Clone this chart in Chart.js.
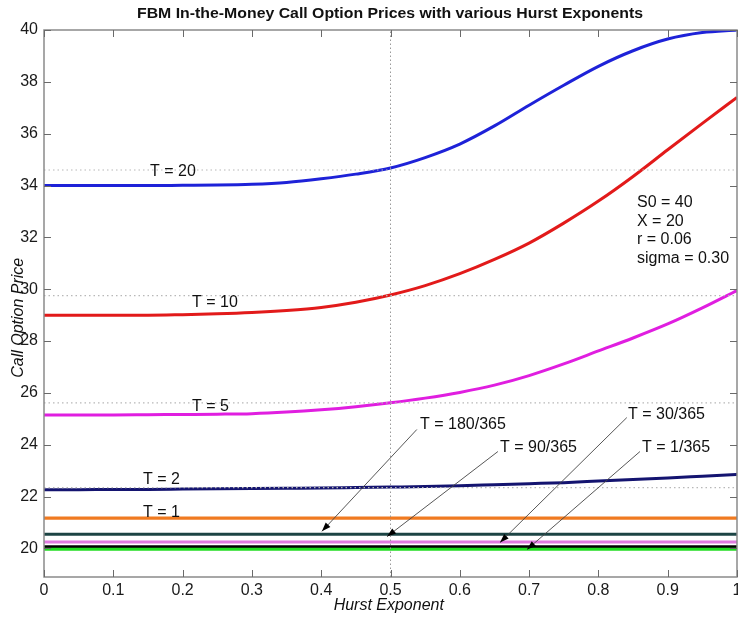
<!DOCTYPE html>
<html>
<head>
<meta charset="utf-8">
<script src="https://cdn.jsdelivr.net/npm/chart.js@4/dist/chart.umd.min.js"></script>
<style>
html,body{margin:0;padding:0;background:#fff;}
#wrap{width:738px;height:618px;position:relative;}
</style>
</head>
<body>
<div id="wrap"><canvas id="c" width="738" height="618"></canvas></div>
<script>
// ---- data ----
const hurst = [0,0.05,0.1,0.15,0.2,0.25,0.3,0.35,0.4,0.45,0.5,0.55,0.6,0.65,0.7,0.75,0.8,0.85,0.9,0.95,1];
const priceT20  = [34.0,34.0,34.0,34.0,34.01,34.02,34.05,34.12,34.26,34.44,34.68,35.08,35.6,36.3,37.1,37.87,38.6,39.2,39.65,39.9,40.0];
const priceT10  = [29.0,29.0,29.0,29.0,29.02,29.05,29.1,29.18,29.3,29.5,29.78,30.14,30.6,31.15,31.78,32.55,33.4,34.35,35.38,36.4,37.4];
const priceT5   = [25.15,25.15,25.15,25.16,25.17,25.18,25.2,25.26,25.35,25.47,25.62,25.8,26.02,26.3,26.67,27.12,27.62,28.12,28.66,29.28,29.95];
const priceT2   = [22.27,22.27,22.28,22.28,22.29,22.3,22.31,22.32,22.33,22.35,22.37,22.39,22.42,22.46,22.5,22.54,22.6,22.66,22.72,22.79,22.86];
const priceT1   = [21.17,21.17,21.17,21.17,21.17,21.17,21.17,21.17,21.17,21.17,21.17,21.17,21.17,21.17,21.17,21.17,21.17,21.17,21.17,21.17,21.17];
const priceT180 = [20.55,20.55,20.55,20.55,20.55,20.55,20.55,20.55,20.55,20.55,20.55,20.55,20.55,20.55,20.55,20.55,20.55,20.55,20.55,20.55,20.55];
const priceT90  = [20.25,20.25,20.25,20.25,20.25,20.25,20.25,20.25,20.25,20.25,20.25,20.25,20.25,20.25,20.25,20.25,20.25,20.25,20.25,20.25,20.25];
const priceT30  = [20.06,20.06,20.06,20.06,20.06,20.06,20.06,20.06,20.06,20.06,20.06,20.06,20.06,20.06,20.06,20.06,20.06,20.06,20.06,20.06,20.06];
const priceT1d  = [19.97,19.97,19.97,19.97,19.97,19.97,19.97,19.97,19.97,19.97,19.97,19.97,19.97,19.97,19.97,19.97,19.97,19.97,19.97,19.97,19.97];
// reference (H = 0.5) levels shown as dotted lines
const refLevels = [34.6, 29.75, 25.62, 22.35];
const refHurst = 0.5;
const yTicks = [20,22,24,26,28,30,32,34,36,38,40];
const xTicks = [0,0.1,0.2,0.3,0.4,0.5,0.6,0.7,0.8,0.9,1];

const seriesNames  = ['T = 1/365','T = 30/365','T = 90/365','T = 180/365','T = 1','T = 2','T = 5','T = 10','T = 20'];
const seriesValues = [priceT1d, priceT30, priceT90, priceT180, priceT1, priceT2, priceT5, priceT10, priceT20];
const seriesColors = ['#22dd22','#000000','#e07ae0','#1c4444','#f07a20','#141470','#e01ee0','#e21a1a','#1e22d8'];

// annotation texts: [text, H, price]
const labelTexts = [
  ['T = 20', 0.153, 34.53],
  ['T = 10', 0.2136, 29.48],
  ['T = 5', 0.2136, 25.47],
  ['T = 2', 0.143, 22.66],
  ['T = 1', 0.143, 21.39],
  ['T = 180/365', 0.5426, 24.78],
  ['T = 90/365', 0.658, 23.89],
  ['T = 30/365', 0.8427, 25.16],
  ['T = 1/365', 0.863, 23.89]
];
// arrows: [fromH, fromPrice, toH, toPrice]
const arrows = [
  [0.538, 24.59, 0.401, 20.66],
  [0.655, 23.74, 0.495, 20.46],
  [0.841, 25.05, 0.658, 20.23],
  [0.860, 23.74, 0.697, 19.96]
];
const paramLines = ['S0 = 40','X = 20','r = 0.06','sigma = 0.30'];
const paramPos = [0.8557, 33.33, 31.18];

const titleText = 'FBM In-the-Money Call Option Prices with various Hurst Exponents';
const xTitle = 'Hurst Exponent';
const yTitle = 'Call Option Price';

// ---- datasets ----
const datasets = [];
refLevels.forEach(v => {
  datasets.push({
    data: [{x:0,y:v},{x:1,y:v}],
    borderColor:'#b8b8b8', borderWidth:1.2, borderDash:[1.5,3],
    pointRadius:0, fill:false, tension:0
  });
});
datasets.push({
  data: [{x:refHurst,y:18.9},{x:refHurst,y:40}],
  borderColor:'#9a9a9a', borderWidth:1, borderDash:[1.5,2.5],
  pointRadius:0, fill:false, tension:0
});
seriesValues.forEach((vals,i) => {
  datasets.push({
    label: seriesNames[i],
    data: hurst.map((h,j)=>({x:h,y:vals[j]})),
    borderColor: seriesColors[i],
    borderWidth: i < 5 ? 3.2 : 3,
    pointRadius:0, fill:false,
    cubicInterpolationMode:'monotone'
  });
});

const FONT = '"Liberation Sans", Arial, Helvetica, sans-serif';

const decor = {
  id:'decor',
  afterDatasetsDraw(chart){
    const {ctx, chartArea:a, scales:{x,y}} = chart;
    ctx.save();
    // frame
    ctx.strokeStyle = '#8a8a8a';
    ctx.lineWidth = 1.5;
    ctx.strokeRect(a.left, a.top, a.right - a.left, a.bottom - a.top);
    // inward ticks
    ctx.lineWidth = 1;
    ctx.strokeStyle = '#6a6a6a';
    const tl = 7;
    xTicks.forEach(t => {
      const px = Math.round(x.getPixelForValue(t)) + 0.5;
      ctx.beginPath();
      ctx.moveTo(px, a.bottom); ctx.lineTo(px, a.bottom - tl);
      ctx.moveTo(px, a.top); ctx.lineTo(px, a.top + tl);
      ctx.stroke();
    });
    yTicks.forEach(t => {
      const py = Math.round(y.getPixelForValue(t)) + 0.5;
      ctx.beginPath();
      ctx.moveTo(a.left, py); ctx.lineTo(a.left + tl, py);
      ctx.moveTo(a.right, py); ctx.lineTo(a.right - tl, py);
      ctx.stroke();
    });
    // annotation labels
    ctx.fillStyle = '#111';
    ctx.font = '16px ' + FONT;
    ctx.textAlign = 'left';
    ctx.textBaseline = 'middle';
    labelTexts.forEach(([t,h,v]) => {
      ctx.fillText(t, x.getPixelForValue(h), y.getPixelForValue(v));
    });
    // parameter block
    const py0 = y.getPixelForValue(paramPos[1]);
    const py1 = y.getPixelForValue(paramPos[2]);
    const step = (py1 - py0) / (paramLines.length - 1);
    paramLines.forEach((t,i) => {
      ctx.fillText(t, x.getPixelForValue(paramPos[0]), py0 + i*step);
    });
    // arrows
    arrows.forEach(([h0,v0,h1,v1]) => {
      const x0 = x.getPixelForValue(h0), y0 = y.getPixelForValue(v0);
      const x1 = x.getPixelForValue(h1), y1 = y.getPixelForValue(v1);
      const ang = Math.atan2(y1 - y0, x1 - x0);
      ctx.strokeStyle = '#444';
      ctx.lineWidth = 0.9;
      ctx.beginPath(); ctx.moveTo(x0,y0); ctx.lineTo(x1,y1); ctx.stroke();
      const L = 9, W = 3.2;
      ctx.fillStyle = '#000';
      ctx.beginPath();
      ctx.moveTo(x1,y1);
      ctx.lineTo(x1 - L*Math.cos(ang) + W*Math.sin(ang), y1 - L*Math.sin(ang) - W*Math.cos(ang));
      ctx.lineTo(x1 - L*Math.cos(ang) - W*Math.sin(ang), y1 - L*Math.sin(ang) + W*Math.cos(ang));
      ctx.closePath(); ctx.fill();
    });
    // title
    ctx.fillStyle = '#111';
    let fs = 15;
    ctx.font = 'bold ' + fs + 'px ' + FONT;
    const w = ctx.measureText(titleText).width;
    ctx.textAlign = 'center';
    ctx.textBaseline = 'middle';
    const sx = 506 / w;
    ctx.save();
    ctx.translate(390, 14);
    ctx.scale(sx, 1);
    ctx.fillText(titleText, 0, 0);
    ctx.restore();
    // axis titles
    ctx.font = 'italic 16px ' + FONT;
    ctx.fillText(xTitle, x.getPixelForValue(0.4975), 606);
    ctx.save();
    ctx.translate(19, y.getPixelForValue(28.9));
    ctx.rotate(-Math.PI/2);
    ctx.fillText(yTitle, 0, 0);
    ctx.restore();
    ctx.restore();
  }
};

new Chart(document.getElementById('c'), {
  type:'line',
  data:{datasets},
  options:{
    responsive:false,
    animation:false,
    events:[],
    layout:{padding:{top:30,right:1,left:0,bottom:0}},
    plugins:{legend:{display:false},tooltip:{enabled:false},title:{display:false}},
    scales:{
      x:{
        type:'linear', min:0, max:1,
        afterFit(s){ s.height = 41; s.paddingLeft = 0; s.paddingRight = 0; },
        afterBuildTicks(s){ s.ticks = xTicks.map(v=>({value:v})); },
        grid:{display:false, drawTicks:false},
        border:{display:false},
        ticks:{padding:4, color:'#1a1a1a', font:{family:FONT,size:16}, maxRotation:0, autoSkip:false,
          callback:(v)=>String(Math.round(v*10)/10)}
      },
      y:{
        type:'linear', min:18.9, max:40,
        afterFit(s){ s.width = 44; s.paddingTop = 0; s.paddingBottom = 0; },
        afterBuildTicks(s){ s.ticks = yTicks.map(v=>({value:v})); },
        grid:{display:false, drawTicks:false},
        border:{display:false},
        ticks:{padding:6, color:'#1a1a1a', font:{family:FONT,size:16}, autoSkip:false,
          callback:(v)=>String(v)}
      }
    }
  },
  plugins:[decor]
});
</script>
</body>
</html>
